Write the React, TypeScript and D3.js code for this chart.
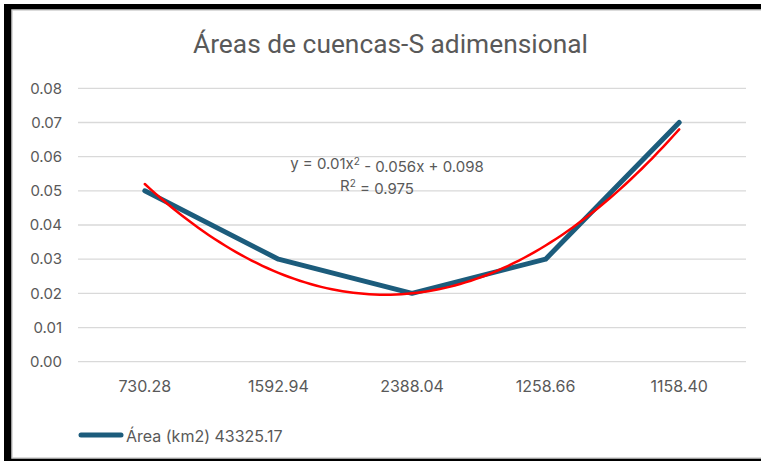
import React from "react";
import * as d3 from "d3";

const categories = ["730.28", "1592.94", "2388.04", "1258.66", "1158.40"];
const areaValues = [0.05, 0.03, 0.02, 0.03, 0.07];
const yTicks = [0, 0.01, 0.02, 0.03, 0.04, 0.05, 0.06, 0.07, 0.08];
const trendCoefs = [0.01, -0.056, 0.098]; // a, b, c for y = a x^2 + b x + c
const titleText = "Áreas de cuencas-S adimensional";
const seriesName = "Área (km2) 43325.17";

const W = 761;
const H = 461;
const left = 78;
const right = 746;
const top = 88.3;
const bottom = 361.7;

export default function App() {
  const x = d3.scaleBand<string>().domain(categories).range([left, right]);
  const cx = (i: number) => (x(categories[i]) as number) + x.bandwidth() / 2;
  const y = d3.scaleLinear().domain([0, 0.08]).range([bottom, top]);

  const line = d3
    .line<number>()
    .x((_, i) => cx(i))
    .y((d) => y(d));

  const xi = d3.scaleLinear().domain([1, categories.length]).range([cx(0), cx(categories.length - 1)]);
  const steps = d3.range(0, 101).map((k) => 1 + (k / 100) * (categories.length - 1));
  const trend = d3
    .line<number>()
    .x((t) => xi(t))
    .y((t) => y(trendCoefs[0] * t * t + trendCoefs[1] * t + trendCoefs[2]));

  const font = "Inter, 'Liberation Sans', sans-serif";
  const gray = "#595959";

  return (
    <svg
      width={W}
      height={H}
      style={{ position: "absolute", left: 0, top: 0 }}
      xmlns="http://www.w3.org/2000/svg"
    >
      <rect x={0} y={0} width={W} height={H} fill="#ffffff" />
      <rect x={4} y={4} width={W} height={H} fill="#000000" />
      <rect x={12} y={10} width={W} height={448} fill="#ffffff" stroke="#d0d0d0" strokeWidth={1.5} />
      <text
        x={390.5}
        y={53}
        textAnchor="middle"
        fontFamily="'Roboto', sans-serif"
        fontSize={25.5}
        textLength={395}
        lengthAdjust="spacingAndGlyphs"
        fill={gray}
      >
        {titleText}
      </text>
      {yTicks.map((t) => (
        <g key={t}>
          <line x1={left} x2={right} y1={y(t)} y2={y(t)} stroke="#d9d9d9" strokeWidth={1.3} />
          <text
            x={62}
            y={y(t)}
            dy="0.35em"
            textAnchor="end"
            fontFamily={font}
            fontSize={15}
            fill={gray}
          >
            {t.toFixed(2)}
          </text>
        </g>
      ))}
      {categories.map((c, i) => (
        <text
          key={c}
          x={cx(i)}
          y={386}
          dy="0.35em"
          textAnchor="middle"
          fontFamily={font}
          fontSize={16}
          fill={gray}
        >
          {c}
        </text>
      ))}
      <path d={line(areaValues) || ""} fill="none" stroke="#1c5c7c" strokeWidth={5} strokeLinecap="round" strokeLinejoin="round" />
      <path d={trend(steps) || ""} fill="none" stroke="#ff0000" strokeWidth={2.5} strokeLinecap="round" />
      <text x={387} y={164} dy="0.35em" textAnchor="middle" fontFamily={font} fontSize={15} fill={gray}>
        y = 0.01x<tspan dy="-0.45em" fontSize={10}>2</tspan>
        <tspan dy="0.45em"> - 0.056x + 0.098</tspan>
      </text>
      <text x={377} y={186} dy="0.35em" textAnchor="middle" fontFamily={font} fontSize={15} fill={gray}>
        R<tspan dy="-0.45em" fontSize={10}>2</tspan>
        <tspan dy="0.45em"> = 0.975</tspan>
      </text>
      <line x1={81} x2={121} y1={435} y2={435} stroke="#1c5c7c" strokeWidth={5} strokeLinecap="round" />
      <text x={126} y={436} dy="0.35em" fontFamily={font} fontSize={16} fill={gray}>
        {seriesName}
      </text>
    </svg>
  );
}
